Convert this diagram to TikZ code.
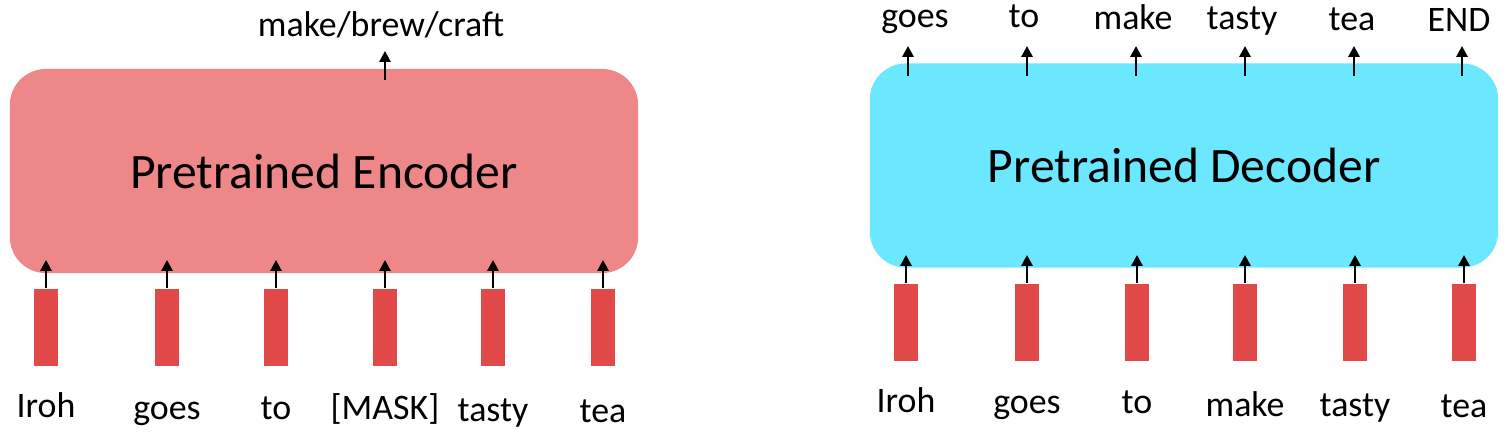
\documentclass[tikz,border=0pt]{standalone}
\usepackage{fontspec}
\setmainfont{Carlito}
\usepackage{xcolor}
\usetikzlibrary{arrows.meta,positioning}

\definecolor{encred}{RGB}{237,135,136}
\definecolor{decblue}{RGB}{107,231,255}
\definecolor{tokred}{RGB}{226,74,74}

\begin{document}
\begin{tikzpicture}[
    x=0.01cm, y=-0.01cm,
    font=\fontsize{10.2}{12}\selectfont,
    block/.style={
        rounded corners=0.36cm,
        minimum width=6.28cm,
        minimum height=2.04cm,
        inner sep=0pt,
        font=\fontsize{14.1}{16}\selectfont
    },
    tok/.style={fill=tokred, minimum width=0.24cm, minimum height=0.77cm, inner sep=0pt},
    word/.style={anchor=base, inner sep=0pt},
    line/.style={-{Triangle[length=3.1pt,width=3.2pt]}, line width=0.6pt}
]
\useasboundingbox (0,0) rectangle (1506,435);

% --- Left: encoder ---
\node[block, fill=encred] (enc) at (324,171) {Pretrained Encoder};

\foreach \w/\x/\y [count=\i] in {Iroh/46/417, goes/167/419, to/276/419, {[MASK]}/385/419, tasty/493/421, tea/603/422} {
    \node[tok] (eb\i) at (\x,327.5) {};
    \node[word] (ew\i) at (\x,\y) {\w};
    \coordinate (et\i) at (\x,260);
    \draw[line] (eb\i.north) -- (et\i);
}

\node[word] (eo) at (381,36) {make/brew/craft};
\coordinate (eoa) at (385,80);
\coordinate (eob) at (385,51);
\draw[line] (eoa) -- (eob);

% --- Right: decoder ---
\node[block, fill=decblue] (dec) at (1184,165.5) {Pretrained Decoder};

\foreach \w/\x/\y [count=\i] in {Iroh/906/412, goes/1027/413, to/1137/413, make/1245/416, tasty/1355/416, tea/1464/417} {
    \node[tok] (db\i) at (\x,322.5) {};
    \node[word] (dw\i) at (\x,\y) {\w};
    \coordinate (dt\i) at (\x,255);
    \draw[line] (db\i.north) -- (dt\i);
}

\foreach \w/\x/\y/\a [count=\i] in {goes/915/27/908, to/1024/27/1027, make/1133/29/1136, tasty/1242/29/1245, tea/1352/30/1354, END/1459/31/1462} {
    \node[word] (do\i) at (\x,\y) {\w};
    \coordinate (dsa\i) at (\a,76);
    \coordinate (dsb\i) at (\a,46);
    \draw[line] (dsa\i) -- (dsb\i);
}

\end{tikzpicture}
\end{document}
